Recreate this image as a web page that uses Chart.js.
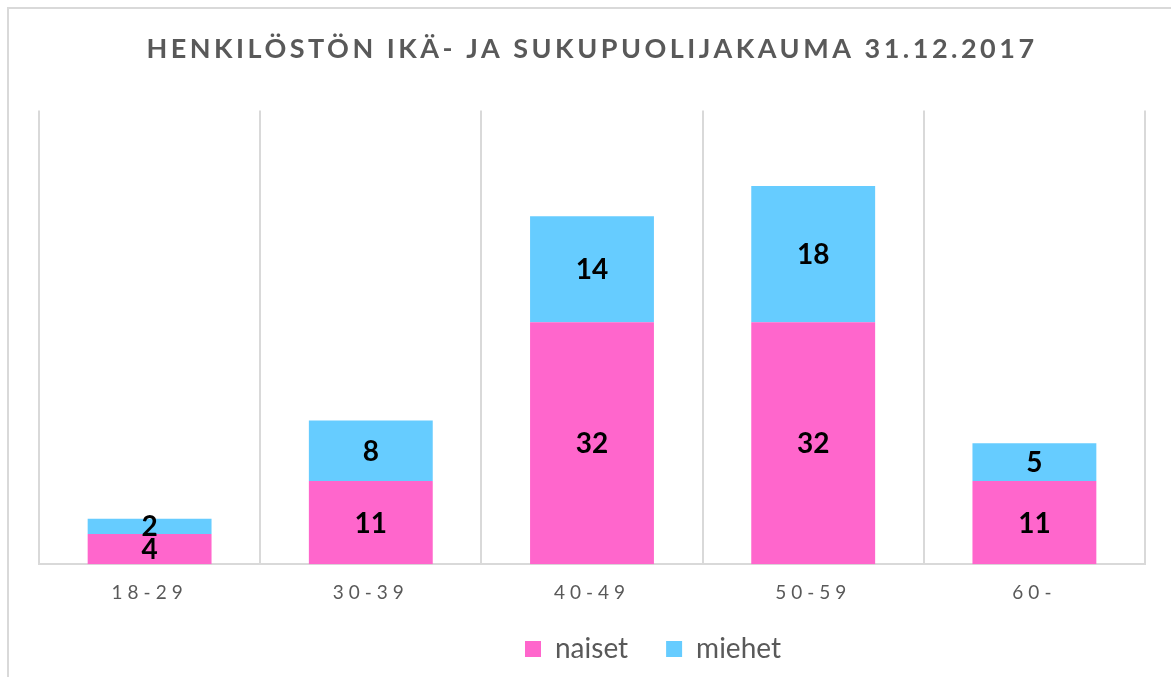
<!DOCTYPE html>
<html>
<head>
<meta charset="utf-8">
<script src="https://cdn.jsdelivr.net/npm/chart.js@4.4.1/dist/chart.umd.min.js"></script>
<style>
html, body { margin: 0; padding: 0; background: #fff; overflow: hidden; }
#frame { position: absolute; left: 7px; top: 7px; width: 1200px; height: 700px; border-left: 2px solid #d9d9d9; border-top: 2px solid #d9d9d9; }
#c { position: absolute; left: 0; top: 0; }
</style>
</head>
<body>
<div id="frame"></div>
<canvas id="c" width="1171" height="677"></canvas>
<script>
const ageGroups = ["18-29", "30-39", "40-49", "50-59", "60-"];
const naiset = [4, 11, 32, 32, 11];
const miehet = [2, 8, 14, 18, 5];
const titleText = "HENKILÖSTÖN IKÄ- JA SUKUPUOLIJAKAUMA 31.12.2017";

const grey = "#595959";
const line = "#d9d9d9";

// numbers in the middle of each bar piece
const valueLabels = {
    id: "valueLabels",
    afterDatasetsDraw(chart) {
        const ctx = chart.ctx;
        ctx.save();
        ctx.font = "bold 28px Lato";
        ctx.fillStyle = "#000";
        ctx.textAlign = "center";
        ctx.textBaseline = "middle";
        chart.data.datasets.forEach((ds, i) => {
            chart.getDatasetMeta(i).data.forEach((bar, j) => {
                ctx.fillText(ds.data[j], bar.x, (bar.y + bar.base) / 2 + 1);
            });
        });
        ctx.restore();
    }
};

// wider letter spacing for title and axis labels
function spread(obj, fn, sp) {
    if (!obj || obj["_sp_" + fn]) return;
    const orig = obj[fn].bind(obj);
    obj[fn] = function (a) {
        const c = obj.ctx;
        c.letterSpacing = sp;
        orig(a);
        c.letterSpacing = "0px";
    };
    obj["_sp_" + fn] = true;
}

// legend sits right of centre in the original, move it there
function shiftLegend(lg) {
    if (!lg || lg._shifted) return;
    const orig = lg.draw.bind(lg);
    lg.draw = function (a) {
        const hb = lg.legendHitBoxes[0];
        const c = lg.ctx;
        c.save();
        if (hb) c.translate(525 - hb.left, 649 - (hb.top + hb.height / 2));
        orig(a);
        c.restore();
    };
    lg._shifted = true;
}

const spacing = {
    id: "spacing",
    afterLayout(chart) {
        spread(chart.scales.x, "drawLabels", "5px");
        spread(chart.titleBlock, "draw", "3.5px");
        shiftLegend(chart.legend);
    }
};

const chart = new Chart(document.getElementById("c"), {
    type: "bar",
    data: {
        labels: ageGroups,
        datasets: [
            { label: "naiset", data: naiset, backgroundColor: "#ff66cc" },
            { label: "miehet", data: miehet, backgroundColor: "#66ccff" }
        ]
    },
    options: {
        responsive: false,
        animation: false,
        devicePixelRatio: 1,
        datasets: { bar: { barPercentage: 0.56, categoryPercentage: 1 } },
        layout: { padding: { left: 39, right: 26, top: 0, bottom: -20 } },
        plugins: {
            title: {
                display: true,
                text: titleText,
                color: grey,
                font: { family: "Lato", size: 27, weight: "bold" },
                padding: { top: 33, bottom: 45 }
            },
            legend: {
                position: "bottom",
                labels: {
                    boxWidth: 16,
                    boxHeight: 16,
                    color: grey,
                    padding: 38,
                    font: { family: "Lato", size: 28 }
                }
            },
            tooltip: { enabled: false }
        },
        scales: {
            x: {
                stacked: true,
                grid: { color: line, lineWidth: 2, drawTicks: false, offset: true },
                border: { color: line, width: 2 },
                ticks: { color: grey, padding: 17, font: { family: "Lato", size: 19 } }
            },
            y: {
                stacked: true,
                display: false,
                min: 0,
                max: 60
            }
        }
    },
    plugins: [valueLabels, spacing]
});
</script>
</body>
</html>
